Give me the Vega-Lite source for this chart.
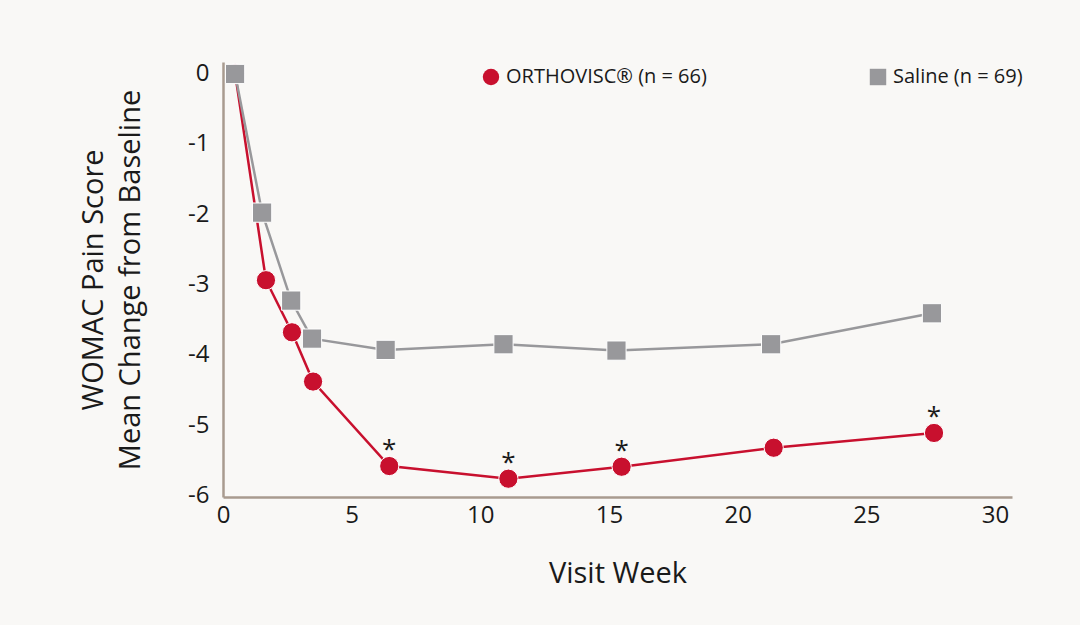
{
  "$schema": "https://vega.github.io/schema/vega-lite/v6.json",
  "width": 789,
  "height": 435,
  "autosize": "none",
  "padding": {"left": 223, "top": 62, "right": 68, "bottom": 128},
  "background": "#f9f8f6",
  "config": {
    "font": "Open Sans",
    "view": {"stroke": null},
    "axis": {"domainColor": "#a89b8f", "domainWidth": 2.5, "ticks": false, "grid": false, "labelColor": "#1a1a1a", "titleColor": "#1a1a1a", "labelFont": "Open Sans", "titleFont": "Open Sans", "titleFontWeight": "normal", "labelExpr": "toString(datum.value)"}
  },
  "data": {
    "values": [
      {"series": "ORTHOVISC® (n = 66)", "week": 0.47, "change": 0.0, "sig": ""},
      {"series": "ORTHOVISC® (n = 66)", "week": 1.67, "change": -2.94, "sig": ""},
      {"series": "ORTHOVISC® (n = 66)", "week": 2.68, "change": -3.68, "sig": ""},
      {"series": "ORTHOVISC® (n = 66)", "week": 3.5, "change": -4.38, "sig": ""},
      {"series": "ORTHOVISC® (n = 66)", "week": 6.46, "change": -5.58, "sig": "*"},
      {"series": "ORTHOVISC® (n = 66)", "week": 11.09, "change": -5.76, "sig": "*"},
      {"series": "ORTHOVISC® (n = 66)", "week": 15.49, "change": -5.59, "sig": "*"},
      {"series": "ORTHOVISC® (n = 66)", "week": 21.4, "change": -5.32, "sig": ""},
      {"series": "ORTHOVISC® (n = 66)", "week": 27.63, "change": -5.11, "sig": "*"},
      {"series": "Saline (n = 69)", "week": 0.47, "change": -0.01, "sig": ""},
      {"series": "Saline (n = 69)", "week": 1.52, "change": -1.98, "sig": ""},
      {"series": "Saline (n = 69)", "week": 2.65, "change": -3.23, "sig": ""},
      {"series": "Saline (n = 69)", "week": 3.46, "change": -3.77, "sig": ""},
      {"series": "Saline (n = 69)", "week": 6.32, "change": -3.93, "sig": ""},
      {"series": "Saline (n = 69)", "week": 10.9, "change": -3.85, "sig": ""},
      {"series": "Saline (n = 69)", "week": 15.29, "change": -3.94, "sig": ""},
      {"series": "Saline (n = 69)", "week": 21.3, "change": -3.85, "sig": ""},
      {"series": "Saline (n = 69)", "week": 27.55, "change": -3.41, "sig": ""}
    ]
  },
  "encoding": {
    "x": {
      "field": "week", "type": "quantitative",
      "scale": {"domain": [0, 30.66], "nice": false, "zero": false},
      "axis": {"values": [0, 5, 10, 15, 20, 25, 30], "title": "Visit Week", "labelFontSize": 24, "titleFontSize": 29, "labelPadding": 6, "titlePadding": 32, "labelFlush": false}
    },
    "y": {
      "field": "change", "type": "quantitative",
      "scale": {"domain": [-6.02, 0.16], "nice": false, "zero": false},
      "axis": {"values": [0, -1, -2, -3, -4, -5, -6], "title": ["WOMAC Pain Score", "Mean Change from Baseline"], "labelFontSize": 24, "titleFontSize": 29, "titleLineHeight": 37, "labelPadding": 14, "titlePadding": 42}
    }
  },
  "layer": [
    {
      "mark": {"type": "line", "strokeWidth": 2.5},
      "encoding": {
        "color": {"field": "series", "type": "nominal", "scale": {"domain": ["ORTHOVISC® (n = 66)", "Saline (n = 69)"], "range": ["#c8102e", "#98989b"]},
          "legend": {"title": null, "orient": "none", "legendX": 258, "legendY": 5, "direction": "horizontal", "columns": 2, "columnPadding": 161, "labelFontSize": 20, "labelLimit": 0, "labelFont": "Open Sans", "labelColor": "#1a1a1a", "symbolSize": 270, "symbolStrokeWidth": 0, "labelOffset": 5}}
      }
    },
    {
      "mark": {"type": "point", "filled": true, "opacity": 1, "stroke": "#ffffff", "strokeWidth": 1},
      "encoding": {
        "color": {"field": "series", "type": "nominal", "scale": {"domain": ["ORTHOVISC® (n = 66)", "Saline (n = 69)"], "range": ["#c8102e", "#98989b"]},
          "legend": {"title": null, "orient": "none", "legendX": 258, "legendY": 5, "direction": "horizontal", "columns": 2, "columnPadding": 161, "labelFontSize": 20, "labelLimit": 0, "labelFont": "Open Sans", "labelColor": "#1a1a1a", "symbolSize": 270, "symbolStrokeWidth": 0, "labelOffset": 5}},
        "shape": {"field": "series", "type": "nominal", "scale": {"domain": ["ORTHOVISC® (n = 66)", "Saline (n = 69)"], "range": ["circle", "square"]},
          "legend": {"title": null, "orient": "none", "legendX": 258, "legendY": 5, "direction": "horizontal", "columns": 2, "columnPadding": 161, "labelFontSize": 20, "labelLimit": 0, "labelFont": "Open Sans", "labelColor": "#1a1a1a", "symbolSize": 270, "symbolStrokeWidth": 0, "labelOffset": 5}},
        "size": {"value": 370}
      }
    },
    {
      "transform": [{"filter": "datum.sig == '*'"}],
      "mark": {"type": "text", "fontSize": 26, "color": "#1a1a1a", "baseline": "middle", "dy": -16, "font": "Open Sans"},
      "encoding": {"text": {"field": "sig"}}
    }
  ]
}
